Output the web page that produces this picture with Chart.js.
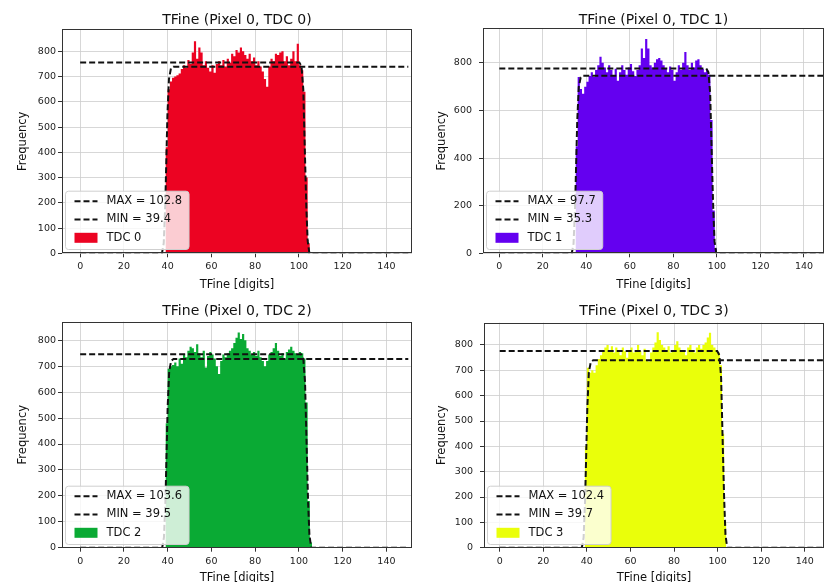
<!DOCTYPE html>
<html>
<head>
<meta charset="utf-8">
<script src="https://cdn.jsdelivr.net/npm/chart.js@4.4.1/dist/chart.umd.min.js"></script>
<style>
  html, body { margin: 0; padding: 0; background: #fff; }
  #fig { position: relative; width: 825px; height: 582px; overflow: hidden; }
  #fig canvas { position: absolute; }
</style>
</head>
<body>
<div id="fig">
  <canvas id="tdc0" width="414" height="291" style="left:0;top:0"></canvas>
  <canvas id="tdc1" width="411" height="291" style="left:414px;top:0"></canvas>
  <canvas id="tdc2" width="414" height="291" style="left:0;top:291px"></canvas>
  <canvas id="tdc3" width="411" height="291" style="left:414px;top:291px"></canvas>
</div>
<script>
// ---- data ----
const tdcLabels = ['TDC 0', 'TDC 1', 'TDC 2', 'TDC 3'];
const xTicks = [0, 20, 40, 60, 80, 100, 120, 140];
const yTicksFine = [0, 100, 200, 300, 400, 500, 600, 700, 800];
const yTicksCoarse = [0, 200, 400, 600, 800];

// edge positions from the fits (legend values)
const maxEdge = [102.8, 97.7, 103.6, 102.4];
const minEdge = [39.4, 35.3, 39.5, 39.7];

// first bin (1 digit wide) of each histogram
const binStart = [39, 35, 39, 39];

const tdc0Counts = [420, 650, 680, 695, 700, 705, 712, 730, 745, 735, 765, 750, 795, 840, 770, 815,
  795, 745, 760, 735, 720, 745, 715, 750, 760, 745, 765, 740, 770, 755, 790, 780, 805, 795, 815, 800,
  785, 770, 790, 760, 775, 745, 760, 740, 720, 690, 660, 740, 770, 760, 790, 785, 795, 800, 760, 780,
  745, 770, 800, 760, 830, 745, 725, 640, 300, 40];
const tdc1Counts = [450, 740, 690, 670, 700, 720, 745, 760, 740, 770, 790, 825, 800, 780, 760, 790,
  770, 745, 775, 725, 760, 790, 770, 750, 780, 795, 765, 745, 770, 790, 860, 820, 900, 860, 790, 780,
  800, 815, 820, 810, 790, 775, 760, 785, 770, 725, 760, 790, 770, 800, 845, 790, 770, 800, 780, 810,
  815, 790, 775, 760, 770, 750, 560, 180, 20];
const tdc2Counts = [480, 690, 700, 705, 715, 700, 730, 710, 745, 735, 760, 775, 770, 755, 785, 750,
  735, 760, 695, 740, 755, 745, 730, 700, 670, 720, 745, 735, 750, 760, 770, 790, 810, 830, 805, 825,
  800, 770, 760, 745, 755, 740, 760, 735, 720, 700, 720, 745, 755, 770, 790, 760, 740, 750, 730, 755,
  765, 775, 760, 750, 745, 755, 750, 730, 560, 180, 20];
const tdc3Counts = [400, 710, 690, 700, 690, 720, 745, 760, 775, 790, 800, 780, 795, 770, 790, 780,
  760, 790, 775, 750, 780, 790, 770, 780, 800, 775, 760, 785, 740, 735, 770, 790, 810, 850, 820, 800,
  790, 780, 795, 770, 780, 800, 815, 790, 775, 780, 760, 790, 800, 780, 770, 790, 800, 785, 800, 810,
  830, 848, 800, 790, 780, 770, 720, 450, 100];

// fitted edges, [x, frequency]
const tdc0MaxFit = [[0, 756], [100.2, 756], [101.2, 740], [102.0, 650], [102.8, 378], [103.4, 180], [104.0, 50], [104.8, 0], [150, 0]];
const tdc0MinFit = [[0, 0], [37.4, 0], [38.2, 40], [38.9, 190], [39.4, 370], [39.9, 550], [40.6, 690], [41.5, 732], [42.6, 739], [150, 739]];
const tdc1MaxFit = [[0, 776], [95.1, 776], [96.1, 760], [96.9, 670], [97.7, 388], [98.3, 190], [98.9, 50], [99.7, 0], [150, 0]];
const tdc1MinFit = [[0, 0], [33.3, 0], [34.1, 40], [34.8, 190], [35.3, 373], [35.8, 555], [36.5, 698], [37.4, 739], [38.5, 746], [150, 746]];
const tdc2MaxFit = [[0, 746], [101.0, 746], [102.0, 730], [102.8, 640], [103.6, 373], [104.2, 175], [104.8, 50], [105.6, 0], [150, 0]];
const tdc2MinFit = [[0, 0], [37.5, 0], [38.3, 40], [39.0, 185], [39.5, 364], [40.0, 543], [40.7, 680], [41.6, 721], [42.7, 728], [150, 728]];
const tdc3MaxFit = [[0, 776], [99.8, 776], [100.8, 760], [101.6, 670], [102.4, 388], [103.0, 190], [103.6, 50], [104.4, 0], [150, 0]];
const tdc3MinFit = [[0, 0], [37.7, 0], [38.5, 40], [39.2, 190], [39.7, 370], [40.2, 550], [40.9, 692], [41.8, 733], [42.9, 740], [150, 740]];

const counts = [tdc0Counts, tdc1Counts, tdc2Counts, tdc3Counts];
const maxFits = [tdc0MaxFit, tdc1MaxFit, tdc2MaxFit, tdc3MaxFit];
const minFits = [tdc0MinFit, tdc1MinFit, tdc2MinFit, tdc3MinFit];

// ---- look ----
const tdcColors = ['#ec0322', '#6400f0', '#0aaa34', '#eaff0a'];
const gridColor = 'rgba(205,205,205,0.8)';

const panels = [
  { id: 'tdc0', yW: 62, xH: 37.7, padR: 2, tTop: 13, tBot: 2.3, yTitle: 17.5, xTitle: 0.2, yTickPad: 2, xMin: -8.3, xMax: 151.7, yMax: 887, yTicks: yTicksFine },
  { id: 'tdc1', yW: 69, xH: 37.7, padR: 1, tTop: 13, tBot: 1.3, yTitle: 22.5, xTitle: 0.2, yTickPad: 7, xMin: -7.5, xMax: 149.2, yMax: 945, yTicks: yTicksCoarse },
  { id: 'tdc2', yW: 62, xH: 34.3, padR: 2, tTop: 13.7, tBot: 3, yTitle: 17.5, xTitle: -1.5, yTickPad: 2, xMin: -8.3, xMax: 151.7, yMax: 872, yTicks: yTicksFine },
  { id: 'tdc3', yW: 70, xH: 34.3, padR: 1, tTop: 13.7, tBot: 4, yTitle: 22.5, xTitle: -1.5, yTickPad: 7, xMin: -7.2, xMax: 148.8, yMax: 888, yTicks: yTicksFine }
];

Chart.defaults.font.family = '"DejaVu Sans", sans-serif';

// axes frame + legend in the lower left corner
const frameAndLegend = {
  id: 'frameAndLegend',
  afterDraw(chart) {
    const { ctx, chartArea: a } = chart;
    ctx.save();
    ctx.strokeStyle = '#333';
    ctx.lineWidth = 1;
    ctx.strokeRect(Math.round(a.left) + 0.5, Math.round(a.top) + 0.5,
      Math.round(a.right - a.left) - 1, Math.round(a.bottom - a.top) - 1);

    const sets = chart.data.datasets;
    ctx.font = '11.5px "DejaVu Sans"';
    const textW = Math.max(...sets.map(d => ctx.measureText(d.label).width));
    const left = Math.round(a.left) + 3.5;
    const h = 58.3;
    const top = Math.round(a.bottom) - 3.5 - h;
    const w = 41 + textW + 7;
    ctx.beginPath();
    if (ctx.roundRect) ctx.roundRect(left, top, w, h, 3); else ctx.rect(left, top, w, h);
    ctx.fillStyle = 'rgba(255,255,255,0.8)';
    ctx.fill();
    ctx.strokeStyle = '#cfcfcf';
    ctx.stroke();

    sets.forEach((d, k) => {
      const cy = top + 10 + k * 18.3;
      if (d.fill) {
        ctx.fillStyle = d.backgroundColor;
        ctx.fillRect(left + 9, cy - 5, 23, 10);
      } else {
        ctx.setLineDash(d.borderDash);
        ctx.strokeStyle = d.borderColor;
        ctx.lineWidth = d.borderWidth;
        ctx.beginPath();
        ctx.moveTo(left + 9, cy);
        ctx.lineTo(left + 32, cy);
        ctx.stroke();
        ctx.setLineDash([]);
      }
      ctx.fillStyle = '#111';
      ctx.textBaseline = 'middle';
      ctx.fillText(d.label, left + 41, cy);
    });
    ctx.restore();
  }
};

function drawPanel(p, i) {
  const hist = counts[i].map((c, k) => ({ x: binStart[i] + k, y: c }));
  hist.push({ x: binStart[i] + counts[i].length, y: 0 });

  const fitLine = (pts, label) => ({
    label,
    data: pts.map(([x, y]) => ({ x, y })),
    borderColor: '#111',
    borderWidth: 2,
    borderDash: [6, 3],
    pointRadius: 0,
    fill: false,
    order: 0
  });

  new Chart(document.getElementById(p.id), {
    type: 'line',
    data: {
      datasets: [
        fitLine(maxFits[i], 'MAX = ' + maxEdge[i]),
        fitLine(minFits[i], 'MIN = ' + minEdge[i]),
        {
          label: tdcLabels[i],
          data: hist,
          stepped: true,
          fill: 'origin',
          backgroundColor: tdcColors[i],
          borderColor: 'transparent',
          borderWidth: 0,
          pointRadius: 0,
          order: 2
        }
      ]
    },
    options: {
      responsive: false,
      animation: false,
      devicePixelRatio: 1,
      layout: { padding: { right: p.padR } },
      plugins: {
        legend: { display: false },
        tooltip: { enabled: false },
        title: {
          display: true,
          fullSize: false,   // centre over the axes, not the canvas
          text: 'TFine (Pixel 0, ' + tdcLabels[i] + ')',
          color: '#111',
          font: { size: 14, weight: 'normal', lineHeight: 1 },
          padding: { top: p.tTop, bottom: p.tBot }
        }
      },
      scales: {
        x: {
          type: 'linear',
          min: p.xMin,
          max: p.xMax,
          z: 1,
          afterBuildTicks: s => { s.ticks = xTicks.map(v => ({ value: v })); },
          afterFit: s => { s.height = p.xH; },
          grid: { color: gridColor, lineWidth: 1, tickLength: 4, tickColor: '#333', tickWidth: 1 },
          border: { display: false },
          ticks: { color: '#222', font: { size: 9.5 }, padding: 4, maxRotation: 0, autoSkip: false, callback: v => v },
          title: {
            display: true, text: 'TFine [digits]', color: '#111',
            font: { size: 11.5, lineHeight: 1 }, padding: { top: 0, bottom: p.xTitle }
          }
        },
        y: {
          min: 0,
          max: p.yMax,
          z: 1,
          afterBuildTicks: s => { s.ticks = p.yTicks.map(v => ({ value: v })); },
          afterFit: s => { s.width = p.yW; },
          grid: { color: gridColor, lineWidth: 1, tickLength: 4, tickColor: '#333', tickWidth: 1 },
          border: { display: false },
          ticks: { color: '#222', font: { size: 9.5 }, padding: p.yTickPad, autoSkip: false, callback: v => v },
          title: {
            display: true, text: 'Frequency', color: '#111',
            font: { size: 11.5, lineHeight: 1 }, padding: { top: p.yTitle, bottom: 0 }
          }
        }
      }
    },
    plugins: [frameAndLegend]
  });
}

panels.forEach(drawPanel);
</script>
</body>
</html>
